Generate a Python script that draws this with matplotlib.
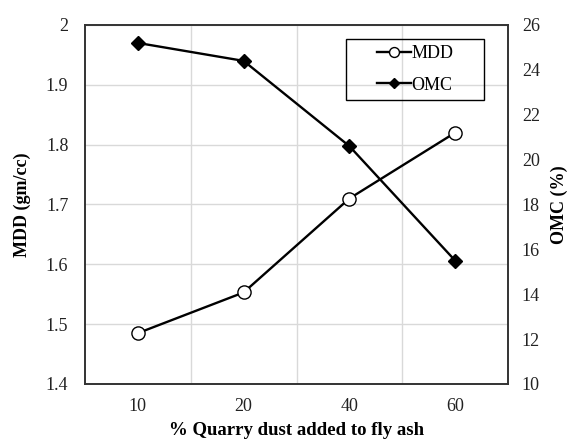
import matplotlib
matplotlib.use("Agg")
import matplotlib.pyplot as plt
from matplotlib.patches import Rectangle
import numpy as np

categories = ["10", "20", "40", "60"]
mdd = [1.485, 1.553, 1.71, 1.82]
omc = [25.2, 24.4, 20.6, 15.5]

plt.rcParams['font.family'] = ['Liberation Serif', 'DejaVu Serif']

fig = plt.figure(figsize=(5.69, 4.4), dpi=100)
ax = fig.add_axes([0.1494, 0.1273, 0.7434, 0.8159])
ax2 = ax.twinx()

x = np.arange(len(categories))
l1, = ax.plot(x, mdd, color='black', lw=1.7, marker='o', markersize=9.5,
              markerfacecolor='white', markeredgecolor='black', markeredgewidth=1.0, label='MDD', zorder=3)
l2, = ax2.plot(x, omc, color='black', lw=1.7, marker='D', markersize=6.8,
               markerfacecolor='black', markeredgecolor='black', label='OMC', zorder=3)

ax.set_xlim(-0.5, len(categories) - 0.5)
ax.set_ylim(1.4, 2.0)
ax.set_yticks(np.arange(1.4, 2.01, 0.1))
ax.set_yticklabels(["1.4", "1.5", "1.6", "1.7", "1.8", "1.9", "2"])
ax2.set_ylim(10, 26)
ax2.set_yticks(np.arange(10, 27, 2))

ax.set_xticks(x)
ax.set_xticklabels(categories)
ax.set_xticks(np.arange(0.5, len(categories) - 0.5, 1), minor=True)
ax.grid(axis='y', which='major', color='#d9d9d9', lw=1.0)
ax.grid(axis='x', which='minor', color='#d9d9d9', lw=1.0)
ax.grid(axis='x', which='major', visible=False)
ax.set_axisbelow(True)

for a in (ax, ax2):
    a.tick_params(axis='both', which='both', length=0, labelsize=13, labelcolor='#222222')
    for s in a.spines.values():
        s.set_color('#333333')
        s.set_linewidth(1.2)
ax.tick_params(axis='x', pad=10)
ax.tick_params(axis='y', pad=12)
ax2.tick_params(axis='y', pad=10)

ax.set_xlabel("% Quarry dust added to fly ash", fontsize=13.5, fontweight='bold', labelpad=5)
ax.set_ylabel("MDD (gm/cc)", fontsize=13, fontweight='bold', labelpad=11)
ax2.set_ylabel("OMC (%)", fontsize=13, fontweight='bold', labelpad=8)

leg = ax2.legend(handles=[l1, l2], loc='center', bbox_to_anchor=(0.78, 0.876),
                 fontsize=13, frameon=False,
                 handlelength=1.9, handletextpad=0.0, borderpad=0.3, labelspacing=0.8,
                 markerscale=0.75)
ax2.add_patch(Rectangle((0.617, 0.791), 0.326, 0.170, transform=ax2.transAxes,
                        fill=False, edgecolor='black', lw=1.0, zorder=5))

fig.savefig("out.png", dpi=100)
